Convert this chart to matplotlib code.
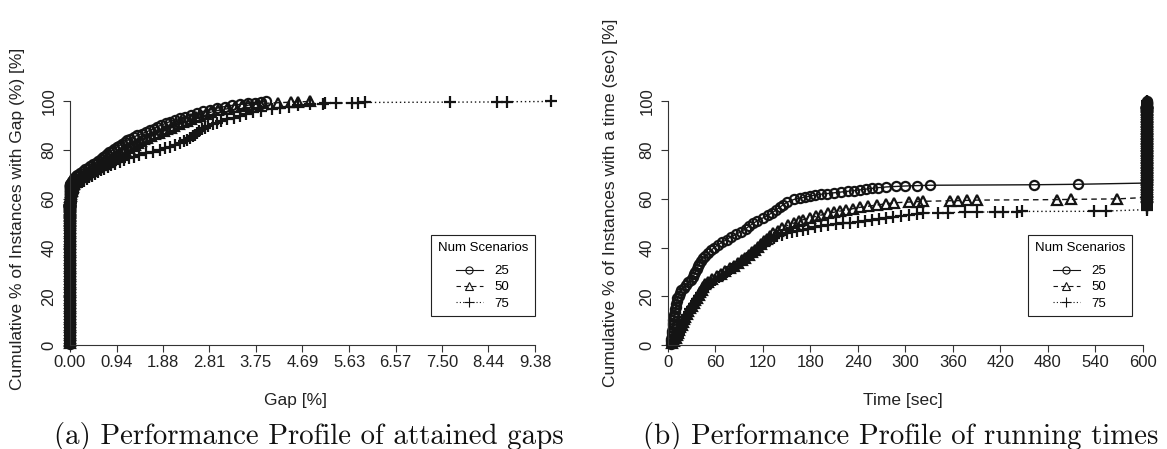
import numpy as np
import matplotlib
matplotlib.use('Agg')
import matplotlib.pyplot as plt
from matplotlib.lines import Line2D

# Performance profiles for three scenario counts.
# Each instance either finished within the time limit (gap 0, solve time known)
# or hit the limit (time = limit, final gap known).

scenarios = ['25', '50', '75']
time_limit = 605
gap_ticks = [0.00, 0.94, 1.88, 2.81, 3.75, 4.69, 5.63, 6.57, 7.50, 8.44, 9.38]
time_ticks = [0, 60, 120, 180, 240, 300, 360, 420, 480, 540, 600]

# --- 25 scenarios ---
solved_pct_25 = [0.4, 1.5, 2.6, 3.7, 4.8, 5.9, 7.0, 8.1, 9.2, 10.3, 11.4, 12.5, 13.6, 14.7, 15.8,
                 16.9, 18.0, 19.1, 20.2, 21.3, 22.4, 23.5, 24.6, 25.7, 26.8, 27.9, 29.0, 30.1, 31.2,
                 32.3, 33.4, 34.5, 35.6, 36.7, 37.8, 38.9, 40.0, 41.1, 42.2, 43.3, 44.4, 45.5, 46.6,
                 47.7, 48.8, 49.9, 51.0, 52.1, 53.2, 54.3, 55.4, 56.5, 57.6, 58.7, 59.8,
                 60.3, 60.7, 61.1, 61.5, 61.9, 62.2, 62.5, 62.8, 63.1, 63.4, 63.7, 64.0, 64.3, 64.6,
                 64.9, 65.1, 65.3, 65.45, 65.6, 65.8, 66.0]
solved_time_25 = [3.2, 3.8, 4.2, 4.6, 4.9, 5.3, 5.7, 6.0, 6.5, 6.9, 7.4, 7.8, 8.4, 9.1, 9.9,
                  10.6, 11.3, 12.0, 13.6, 15.1, 17.0, 19.6, 22.3, 25.8, 29.4, 31.4, 33.0, 34.7, 36.3,
                  38.0, 39.6, 41.3, 43.9, 47.4, 51.0, 54.7, 58.3, 63.0, 68.5, 74.0, 79.5, 86.0, 92.6,
                  98.0, 102.7, 107.4, 113.0, 119.6, 126.0, 131.5, 136.6, 141.0, 145.5, 151.0, 159.5,
                  167, 173, 179, 185.5, 193, 201, 210, 218.5, 227, 235, 242.5, 250, 257.5, 265,
                  276, 288, 300, 315, 331, 462, 518]
open_pct_25 = [66.5, 67.2, 67.9, 68.6, 69.3, 70.0, 70.7, 71.4, 72.1, 72.8, 73.5, 74.2, 74.9, 75.6,
               76.3, 77.0, 77.7, 78.4, 79.1, 79.8, 80.5, 81.2, 81.9, 82.6, 83.3, 84.0, 84.7, 85.4,
               86.1, 86.8, 87.5, 88.2, 88.9, 89.6, 90.3, 91.0, 91.7, 92.4, 93.1, 93.8, 94.5, 95.2,
               95.9, 96.6, 97.3, 97.9, 98.4, 98.8, 99.2, 99.5, 99.8, 100.0]
open_gap_25 = [0.015, 0.04, 0.057, 0.087, 0.119, 0.15, 0.20, 0.255, 0.31, 0.36, 0.41, 0.465, 0.52,
               0.57, 0.62, 0.66, 0.70, 0.75, 0.79, 0.84, 0.89, 0.94, 0.99, 1.05, 1.10, 1.15, 1.22,
               1.29, 1.36, 1.45, 1.54, 1.62, 1.69, 1.76, 1.84, 1.93, 2.01, 2.11, 2.22, 2.32, 2.44,
               2.56, 2.68, 2.82, 2.96, 3.12, 3.27, 3.43, 3.60, 3.73, 3.86, 3.95]

# --- 50 scenarios ---
solved_pct_50 = [0.7, 1.8, 2.9, 4.0, 5.1, 6.2, 7.3, 8.4, 9.5, 10.6, 11.7, 12.8, 13.9, 15.0, 16.1,
                 17.2, 18.3, 19.4, 20.5, 21.6, 22.7, 23.8, 24.9, 26.0, 27.1, 28.2, 29.3, 30.4, 31.5,
                 32.6, 33.7, 34.8, 35.9, 37.0, 38.1, 39.2, 40.3, 41.4, 42.5, 43.6, 44.7, 45.8, 46.9,
                 48.0, 49.1, 50.1, 50.8, 51.5, 52.2, 52.8, 53.4, 54.0, 54.5, 55.0, 55.5, 56.0, 56.5,
                 57.0, 57.5, 58.0, 58.4, 58.7, 58.9, 59.0, 59.2, 59.3, 59.4, 59.5, 59.7, 59.8, 60.0]
solved_time_50 = [4.6, 8.2, 10.5, 11.9, 13.2, 14.5, 15.7, 17.2, 18.6, 20.2, 22.0, 23.8, 25.8, 28.0,
                  30.2, 32.4, 34.6, 36.7, 38.6, 40.5, 42.4, 44.6, 46.8, 50.2, 55.3, 61.4, 67.0, 72.6,
                  78.2, 83.4, 88.4, 93.1, 97.7, 101.9, 106.0, 109.7, 113.4, 117.2, 121.3, 125.3,
                  129.3, 133.2, 138.8, 144.7, 151.1, 159.6, 165.2, 171.0, 179.6, 186.8, 194.0, 201.6,
                  209.6, 217.6, 225.6, 233.6, 242.2, 253.4, 264.4, 275.6, 286.0, 304.0, 316.0, 322.0,
                  356.0, 367.0, 378.0, 390.0, 492.0, 509.0, 568.0]
open_pct_50 = [60.6, 61.3, 62.0, 62.7, 63.4, 64.1, 64.8, 65.5, 66.2, 66.9, 67.6, 68.3, 69.0, 69.7,
               70.4, 71.1, 71.8, 72.5, 73.2, 73.9, 74.6, 75.3, 76.0, 76.7, 77.4, 78.1, 78.8, 79.5,
               80.2, 80.9, 81.6, 82.3, 83.0, 83.7, 84.4, 85.1, 85.8, 86.5, 87.2, 87.9, 88.6, 89.3,
               90.0, 90.7, 91.4, 92.1, 92.8, 93.5, 94.2, 94.9, 95.6, 96.3, 97.0, 97.6, 98.1, 98.5,
               98.9, 99.2, 99.5, 99.7, 99.85, 100.0]
open_gap_50 = [0.010, 0.017, 0.022, 0.029, 0.035, 0.042, 0.052, 0.062, 0.077, 0.10, 0.126, 0.164,
               0.22, 0.276, 0.332, 0.388, 0.444, 0.50, 0.556, 0.612, 0.674, 0.737, 0.80, 0.856,
               0.912, 0.967, 1.016, 1.065, 1.118, 1.181, 1.244, 1.306, 1.365, 1.425, 1.49, 1.56,
               1.63, 1.71, 1.80, 1.89, 1.96, 2.03, 2.10, 2.19, 2.28, 2.36, 2.45, 2.54, 2.63, 2.74,
               2.84, 2.98, 3.17, 3.33, 3.48, 3.60, 3.77, 3.90, 4.20, 4.45, 4.60, 4.84]

# --- 75 scenarios ---
solved_pct_75 = [0.3, 1.4, 2.5, 3.6, 4.7, 5.8, 6.9, 8.0, 9.1, 10.2, 11.3, 12.4, 13.5, 14.6, 15.7,
                 16.8, 17.9, 19.0, 20.1, 21.2, 22.3, 23.4, 24.5, 25.6, 26.7, 27.8, 28.9, 30.0, 31.1,
                 32.2, 33.3, 34.4, 35.5, 36.6, 37.7, 38.8, 39.9, 41.0, 42.1, 43.2,
                 44.0, 44.7, 45.3, 45.8, 46.3, 46.8, 47.3, 47.8, 48.3, 48.7, 49.1, 49.5, 49.9, 50.3,
                 50.7, 51.1, 51.5, 51.9, 52.3, 52.7, 53.1, 53.5, 53.9, 54.2, 54.3, 54.4, 54.5, 54.6,
                 54.7, 54.75, 54.8, 54.85, 54.9, 55.0]
solved_time_75 = [5.0, 8.7, 10.6, 12.4, 13.8, 15.1, 16.3, 17.7, 19.1, 20.6, 22.3, 24.2, 26.0, 28.2,
                  30.4, 32.6, 34.8, 37.0, 39.2, 41.4, 43.8, 46.9, 50.0, 54.4, 58.9, 63.9, 69.0, 74.5,
                  79.6, 84.4, 89.1, 93.7, 98.2, 102.4, 106.6, 110.7, 114.8, 119.2, 124.0, 129.4,
                  134.1, 138.2, 143.8, 150.0, 156.3, 162.9, 170.0, 177.1, 186.0, 194.0, 202.4, 211.8,
                  221.2, 230.6, 240.0, 248.9, 257.8, 266.7, 275.6, 285.0, 294.8, 304.7, 314.6, 322.0,
                  341.0, 354.0, 375.0, 390.0, 413.0, 423.0, 441.0, 447.0, 539.0, 554.0]
open_pct_75 = [55.6, 56.3, 57.0, 57.7, 58.4, 59.1, 59.8, 60.5, 61.2, 61.9, 62.6, 63.3, 64.0, 64.7,
               65.4, 66.1, 66.8, 67.5, 68.2, 68.9, 69.6, 70.3, 71.0, 71.7, 72.4, 73.1, 73.8, 74.5,
               75.2, 75.9, 76.6, 77.3, 78.0, 78.7, 79.4, 80.1, 80.8, 81.5, 82.2, 82.9, 83.6, 84.3,
               85.0, 85.7, 86.4, 87.1, 87.8, 88.5, 89.2, 89.9, 90.6, 91.3, 92.0, 92.7, 93.4, 94.1,
               94.8, 95.5, 96.2, 96.9, 97.4, 97.9, 98.4, 98.8, 99.0, 99.2, 99.3, 99.4, 99.5, 99.6,
               99.7, 99.8, 99.9, 100.0]
open_gap_75 = [0.005, 0.006, 0.008, 0.010, 0.012, 0.015, 0.019, 0.025, 0.032, 0.039, 0.052, 0.066,
               0.08, 0.115, 0.15, 0.19, 0.236, 0.285, 0.337, 0.39, 0.448, 0.505, 0.565, 0.625, 0.69,
               0.76, 0.83, 0.91, 1.00, 1.09, 1.19, 1.30, 1.40, 1.54, 1.68, 1.82, 1.92, 2.02, 2.12,
               2.21, 2.30, 2.37, 2.43, 2.48, 2.53, 2.57, 2.61, 2.67, 2.73, 2.79, 2.88, 2.96, 3.05,
               3.17, 3.30, 3.42, 3.56, 3.70, 3.86, 4.07, 4.24, 4.42, 4.60, 4.84, 5.10, 5.14, 5.36,
               5.68, 5.82, 5.96, 7.67, 8.61, 8.81, 9.70]

series = [
    (solved_pct_25, solved_time_25, open_pct_25, open_gap_25),
    (solved_pct_50, solved_time_50, open_pct_50, open_gap_50),
    (solved_pct_75, solved_time_75, open_pct_75, open_gap_75),
]

INK = '#141414'
styles = [
    dict(marker='o', markersize=6.6, linestyle='-'),
    dict(marker='^', markersize=7.8, linestyle=(0, (4, 3))),
    dict(marker='+', markersize=8.8, linestyle=(0, (1, 2))),
]

plt.rcParams['font.family'] = ['Liberation Sans', 'DejaVu Sans']

W, H = 1167, 449
fig = plt.figure(figsize=(W / 100, H / 100), dpi=100)
fig.patch.set_facecolor('white')


def px_axes(left, right, bottom, top):
    """Axes placed by pixel edges (top-left origin)."""
    return fig.add_axes([left / W, 1 - bottom / H, (right - left) / W, (bottom - top) / H])


ax_gap = px_axes(57.6, 565.7, 352.3, 89.3)
ax_gap.set_xlim(-0.25, 10.0)
ax_time = px_axes(658.5, 1162.5, 352.3, 89.3)
ax_time.set_xlim(-12, 625)
for ax in (ax_gap, ax_time):
    ax.set_ylim(-3, 105)

for (s_pct, s_time, o_pct, o_gap), st in zip(series, styles):
    pct = np.array(s_pct + o_pct)
    gaps = np.concatenate([np.zeros(len(s_pct)), o_gap])
    times = np.concatenate([s_time, np.full(len(o_pct), time_limit)])
    kw = dict(color=INK, linewidth=1.0, markerfacecolor='none', markeredgecolor=INK,
              markeredgewidth=1.6, **st)
    ax_gap.plot(gaps, pct, **kw)
    ax_time.plot(times, pct, **kw)


def style_axes(ax, ticks, labels):
    for side in ('top', 'right'):
        ax.spines[side].set_visible(False)
    ax.spines['left'].set_position(('data', 0))
    ax.spines['bottom'].set_position(('data', 0))
    ax.spines['left'].set_bounds(0, 100)
    ax.spines['bottom'].set_bounds(ticks[0], ticks[-1])
    for side in ('left', 'bottom'):
        ax.spines[side].set_color('#333333')
        ax.spines[side].set_linewidth(0.8)
    ax.set_xticks(ticks)
    ax.set_xticklabels(labels)
    ax.set_yticks([0, 20, 40, 60, 80, 100])
    ax.set_yticklabels(['0', '20', '40', '60', '80', '100'], rotation=90, va='center')
    ax.tick_params(axis='both', direction='out', length=4.8, width=0.8, color='#333333',
                   labelsize=12, labelcolor='#222222')
    ax.tick_params(axis='x', pad=2.5)
    ax.tick_params(axis='y', pad=5)
    ax.patch.set_alpha(0)


style_axes(ax_gap, gap_ticks, ['%.2f' % g for g in gap_ticks])
style_axes(ax_time, time_ticks, [str(t) for t in time_ticks])

# axis titles
fig.text(18 / W, 1 - 219 / H, 'Cumulative % of Instances with Gap (%) [%]', rotation=90,
         ha='center', va='center', fontsize=12.5, color='#222222')
fig.text(611 / W, 1 - 203 / H, 'Cumulative % of Instances with a time (sec) [%]', rotation=90,
         ha='center', va='center', fontsize=12.5, color='#222222')
fig.text(295 / W, 1 - 401 / H, 'Gap [%]', ha='center', va='center', fontsize=12.5, color='#222222')
fig.text(903 / W, 1 - 401 / H, 'Time [sec]', ha='center', va='center', fontsize=12.5,
         color='#222222')

# sub-figure captions
fig.text(309 / W, 1 - 444 / H, '(a) Performance Profile of attained gaps', ha='center',
         va='baseline', fontsize=20.8, family='cmr10', color='#111111')
fig.text(901 / W, 1 - 444 / H, '(b) Performance Profile of running times', ha='center',
         va='baseline', fontsize=20.8, family='cmr10', color='#111111')


def add_legend(ax, x_px, y_px):
    handles = [Line2D([], [], color=INK, linewidth=0.8, markerfacecolor='none',
                      markeredgecolor=INK, markeredgewidth=0.8,
                      **dict(st, markersize=st['markersize'] * 0.78)) for st in styles]
    leg = ax.legend(handles, scenarios, title='Num Scenarios', loc='upper left',
                    bbox_to_anchor=(x_px / W, 1 - y_px / H), bbox_transform=fig.transFigure,
                    frameon=True, fancybox=False, borderaxespad=0, fontsize=9.5,
                    title_fontsize=9.5, handlelength=2.0, handletextpad=0.9,
                    labelspacing=0.3, borderpad=0.5, alignment='center')
    # a bit more room between the title and the entries
    leg._legend_box.sep = 8.2
    frame = leg.get_frame()
    frame.set_edgecolor('#222222')
    frame.set_linewidth(0.8)
    frame.set_facecolor('white')
    frame.set_alpha(1)


add_legend(ax_gap, 431, 235)
add_legend(ax_time, 1028, 235)

fig.savefig('out.png', dpi=100, facecolor='white')
